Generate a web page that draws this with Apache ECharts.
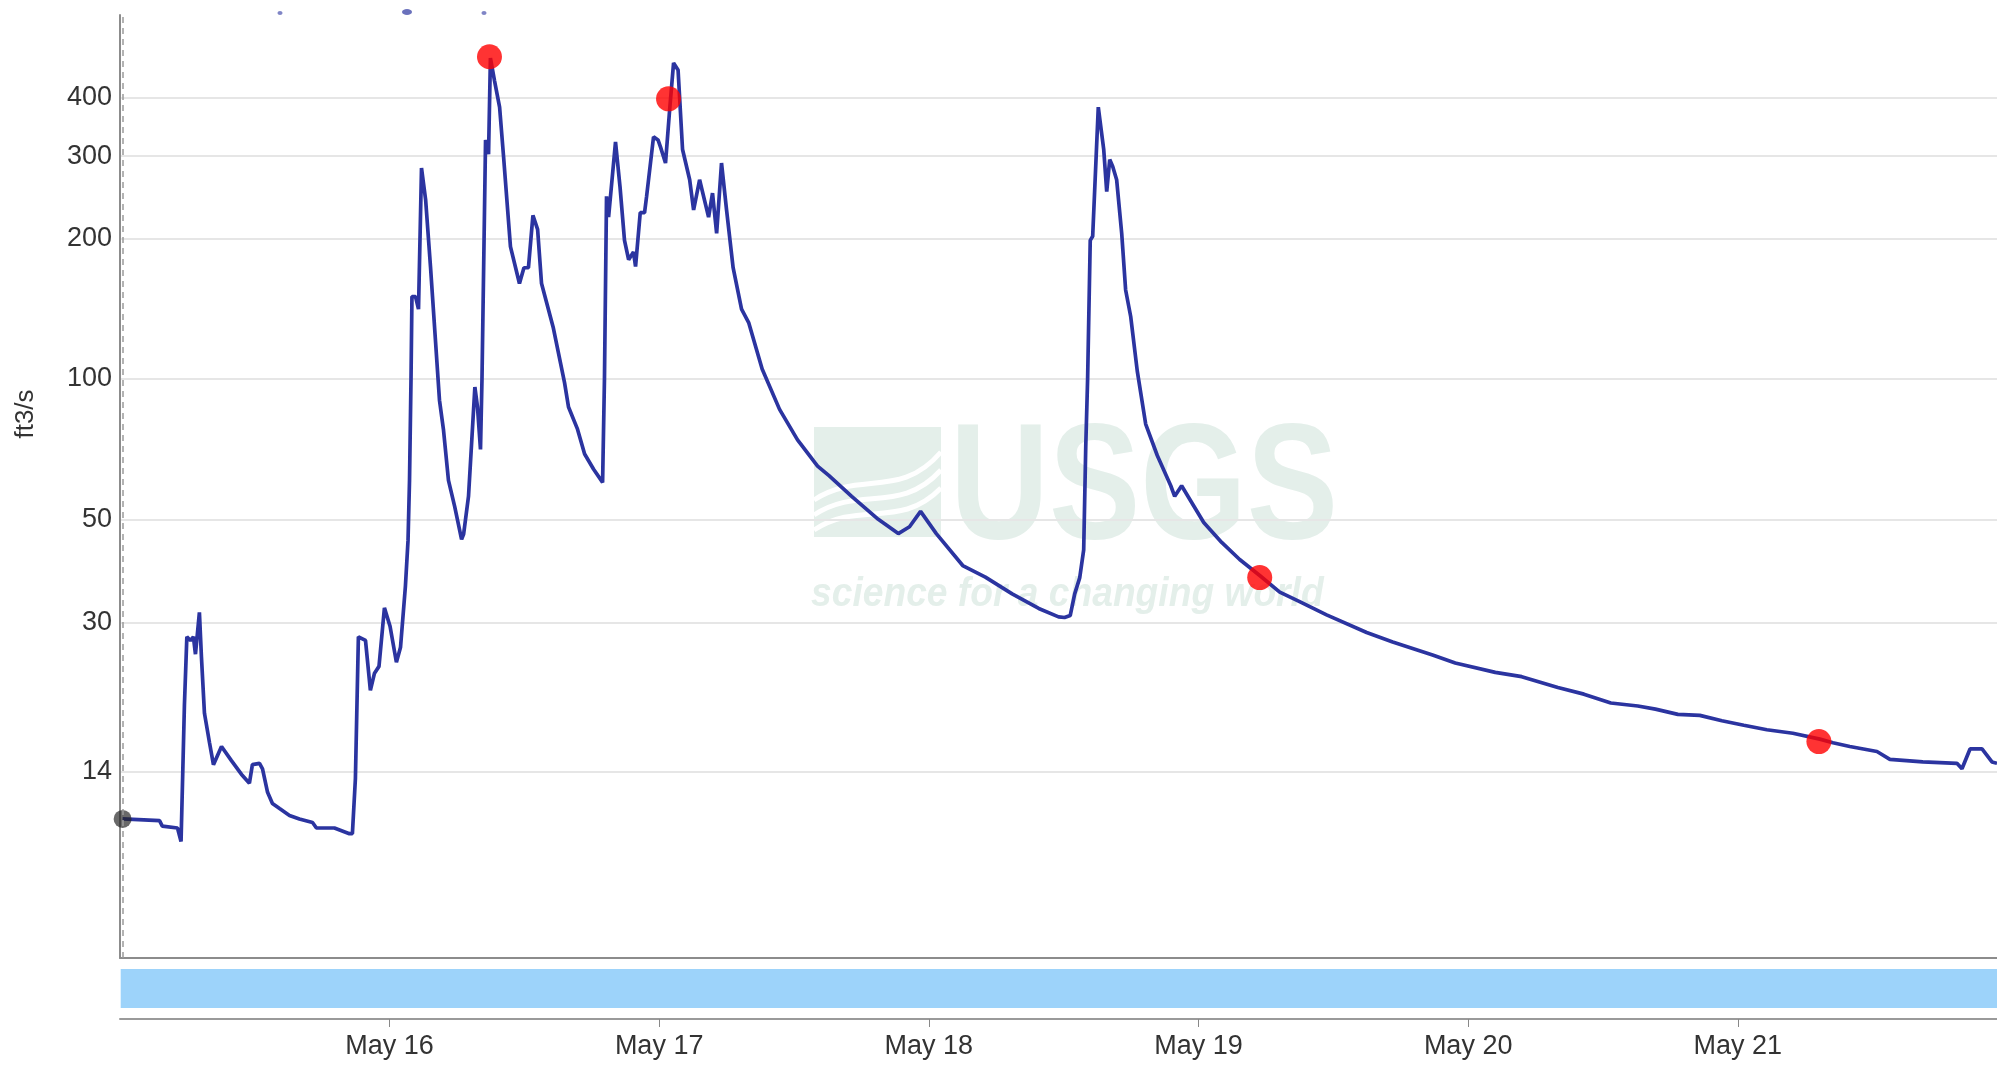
<!DOCTYPE html>
<html><head><meta charset="utf-8">
<script src="https://cdn.jsdelivr.net/npm/echarts@6/dist/echarts.min.js"></script>
<style>html,body{margin:0;padding:0;background:#fff}#chart{width:1997px;height:1066px}</style>
</head><body><div id="chart"></div>
<script>
// ---- data ----
const times = [
'2023-05-15 00:15','2023-05-15 03:32','2023-05-15 03:47','2023-05-15 05:08','2023-05-15 05:27','2023-05-15 05:45','2023-05-15 05:58','2023-05-15 06:17','2023-05-15 06:33','2023-05-15 06:44',
'2023-05-15 07:05','2023-05-15 07:16','2023-05-15 07:32','2023-05-15 07:59','2023-05-15 08:20','2023-05-15 09:03','2023-05-15 09:56','2023-05-15 10:50','2023-05-15 11:32','2023-05-15 11:48',
'2023-05-15 12:26','2023-05-15 12:42','2023-05-15 13:09','2023-05-15 13:35','2023-05-15 14:13','2023-05-15 15:06','2023-05-15 15:59','2023-05-15 17:09','2023-05-15 17:30','2023-05-15 19:06',
'2023-05-15 20:26','2023-05-15 20:42','2023-05-15 20:58','2023-05-15 21:14','2023-05-15 21:52','2023-05-15 22:18','2023-05-15 22:40','2023-05-15 23:04','2023-05-15 23:33','2023-05-16 00:03',
'2023-05-16 00:37','2023-05-16 00:59','2023-05-16 01:25','2023-05-16 01:39','2023-05-16 01:47','2023-05-16 01:55','2023-05-16 02:00','2023-05-16 02:19','2023-05-16 02:35','2023-05-16 02:51',
'2023-05-16 03:13','2023-05-16 03:39','2023-05-16 04:27','2023-05-16 04:48','2023-05-16 05:15','2023-05-16 05:48','2023-05-16 06:25','2023-05-16 06:36','2023-05-16 07:02','2023-05-16 07:36',
'2023-05-16 07:50','2023-05-16 08:06','2023-05-16 08:14','2023-05-16 08:33','2023-05-16 08:49','2023-05-16 08:59','2023-05-16 09:21','2023-05-16 09:48','2023-05-16 10:09','2023-05-16 10:46',
'2023-05-16 11:34','2023-05-16 11:58','2023-05-16 12:22','2023-05-16 12:46','2023-05-16 13:11','2023-05-16 13:32','2023-05-16 14:34','2023-05-16 15:35','2023-05-16 15:56','2023-05-16 16:44',
'2023-05-16 17:22','2023-05-16 18:10','2023-05-16 18:58','2023-05-16 19:08','2023-05-16 19:19','2023-05-16 19:30','2023-05-16 20:07','2023-05-16 20:31','2023-05-16 20:55','2023-05-16 21:17',
'2023-05-16 21:43','2023-05-16 21:54','2023-05-16 22:19','2023-05-16 22:42','2023-05-16 22:53','2023-05-16 23:30','2023-05-16 23:54','2023-05-17 00:07','2023-05-17 00:34','2023-05-17 00:56',
'2023-05-17 01:17','2023-05-17 01:41','2023-05-17 02:05','2023-05-17 02:43','2023-05-17 03:04','2023-05-17 03:36','2023-05-17 04:24','2023-05-17 04:45','2023-05-17 05:07','2023-05-17 05:33',
'2023-05-17 06:00','2023-05-17 06:35','2023-05-17 07:20','2023-05-17 07:58','2023-05-17 09:10','2023-05-17 10:43','2023-05-17 12:19','2023-05-17 14:06','2023-05-17 15:07','2023-05-17 17:08',
'2023-05-17 19:30','2023-05-17 21:17','2023-05-17 22:17','2023-05-17 23:16','2023-05-18 00:40','2023-05-18 03:01','2023-05-18 05:02','2023-05-18 07:25','2023-05-18 09:47','2023-05-18 11:33',
'2023-05-18 12:05','2023-05-18 12:35','2023-05-18 12:59','2023-05-18 13:26','2023-05-18 13:47','2023-05-18 13:58','2023-05-18 14:08','2023-05-18 14:22','2023-05-18 14:35','2023-05-18 15:05',
'2023-05-18 15:34','2023-05-18 15:50','2023-05-18 16:06','2023-05-18 16:22','2023-05-18 16:43','2023-05-18 17:10','2023-05-18 17:31','2023-05-18 17:58','2023-05-18 18:33','2023-05-18 19:18',
'2023-05-18 20:20','2023-05-18 21:32','2023-05-18 21:53','2023-05-18 22:30','2023-05-18 23:18','2023-05-19 00:28','2023-05-19 02:04','2023-05-19 03:40','2023-05-19 05:27','2023-05-19 07:14',
'2023-05-19 09:00','2023-05-19 11:24','2023-05-19 14:58','2023-05-19 17:17','2023-05-19 20:50','2023-05-19 22:51','2023-05-20 02:25','2023-05-20 04:46','2023-05-20 07:59','2023-05-20 10:18',
'2023-05-20 12:42','2023-05-20 15:06','2023-05-20 16:40','2023-05-20 18:40','2023-05-20 20:37','2023-05-20 22:35','2023-05-21 00:32','2023-05-21 02:35','2023-05-21 04:54','2023-05-21 07:18',
'2023-05-21 08:28','2023-05-21 09:58','2023-05-21 12:23','2023-05-21 13:32','2023-05-21 16:28','2023-05-21 19:30','2023-05-21 19:57','2023-05-21 20:40','2023-05-21 21:44','2023-05-21 22:37',
'2023-05-21 23:04'
];
const discharge = [
11.4,11.3,11.0,10.9,10.2,20,28,27.5,28,25.7,
31.6,25.3,19.2,16.6,14.9,16.3,15.2,14.2,13.6,14.9,
15.0,14.6,13.0,12.3,12.0,11.6,11.4,11.2,10.9,10.9,
10.6,10.6,13.9,28,27.5,21.5,23.4,24.2,32.3,29.5,
24.7,26.6,35.9,45,60.6,100,150,150,141,283,
242,174,90,78,60.6,53.3,45.3,46.5,56,96,
87,70.6,100,325,303,487,435,382,300,192,
160,173,173,224,209,160,129,98,87,78,
69,64,60,100,246,222,322,258,198,180,
187,174,227,227,246,330,325,314,290,377,
475,459,310,267,230,267,222,250,205,290,
230,173,141,132,105,86,74,65,62,56,
50,46.6,48.2,52,46.6,39.8,37.6,34.6,32.2,30.9,
30.8,31.1,34.6,37.5,43,71.5,100,198,202,382,
310,252,295,285,267,205,155,136,104,80,
68.5,59,56,59,54.8,49.2,44.6,41.0,37.9,34.9,
33.3,31.2,28.6,27.3,25.6,24.6,23.5,23.0,21.8,21.1,
20.2,19.9,19.6,19.1,19.0,18.5,18.1,17.7,17.4,16.9,
16.6,16.3,15.9,15.3,15.1,15.0,14.6,16.1,16.1,15.1,
15.0
];
// sampled points (red markers)
const sampleTimes = ['2023-05-16 08:54','2023-05-17 00:50','2023-05-19 05:27','2023-05-21 07:13'];
const sampleValues = [490, 398, 37.5, 16.7];
// axis ticks
const yTickValues = [14.4, 30, 50, 100, 200, 300, 400];
const monthNames = ['Jan','Feb','Mar','Apr','May','Jun','Jul','Aug','Sep','Oct','Nov','Dec'];
const xMin = '2023-05-15 00:01', xMax = '2023-05-21 23:04';
const yMin = 5.74, yMax = 602;
const yAxisTitle = 'ft3/s';

// ---- build ----
const ts = s => new Date(s.replace(' ', 'T')).getTime();
const DAY = 86400000;
const lineData = times.map((t, i) => [ts(t), discharge[i]]);
const sampleData = sampleTimes.map((t, i) => [ts(t), sampleValues[i]]);
const FONT = '"Liberation Sans", Arial, Helvetica, sans-serif';
const WM = '#e4efea';
const LINE = '#2b34a0';

const chart = echarts.init(document.getElementById('chart'), null, {renderer: 'canvas'});
const timeAxisBase = {
  type: 'time', min: ts(xMin), max: ts(xMax),
  minInterval: DAY, maxInterval: DAY,
  splitLine: {show: false}
};
chart.setOption({
  animation: false,
  backgroundColor: '#fff',
  grid: {left: 120, right: 0, top: 15, bottom: 108, containLabel: false},
  xAxis: [
    Object.assign({}, timeAxisBase, {
      position: 'bottom',
      axisLine: {show: true, lineStyle: {color: '#8c8c8c', width: 2}},
      axisTick: {show: false}, axisLabel: {show: false}
    }),
    Object.assign({}, timeAxisBase, {
      position: 'bottom', offset: 61,
      axisLine: {show: true, lineStyle: {color: '#9a9a9a', width: 2}},
      axisTick: {show: true, length: 8, lineStyle: {color: '#888', width: 1}},
      axisLabel: {show: true, margin: 14, fontSize: 27, color: '#333', fontFamily: FONT,
        hideOverlap: false,
        formatter: v => { const d = new Date(v); return monthNames[d.getMonth()] + ' ' + d.getDate(); }}
    })
  ],
  yAxis: {
    type: 'log', logBase: 10, min: yMin, max: yMax,
    name: yAxisTitle, nameLocation: 'middle', nameRotate: 90, nameGap: 81,
    nameTextStyle: {fontSize: 26, color: '#333', fontFamily: FONT, padding: [0, 0, 0, 145]},
    axisLine: {show: true, lineStyle: {color: '#8c8c8c', width: 2}},
    axisTick: {show: false, customValues: yTickValues},
    axisLabel: {customValues: yTickValues, margin: 8, fontSize: 27, color: '#333', fontFamily: FONT,
      formatter: v => String(Math.round(v))},
    splitLine: {show: true, lineStyle: {color: '#e6e6e6', width: 2}}
  },
  dataZoom: [{
    type: 'slider', xAxisIndex: [0, 1], filterMode: 'none', start: 0, end: 100,
    left: 120, right: 0, top: 969, height: 39,
    backgroundColor: 'transparent', borderColor: 'transparent', fillerColor: '#9dd3fa',
    showDataShadow: false, showDetail: false, brushSelect: false,
    handleSize: 0, moveHandleSize: 0,
    handleStyle: {opacity: 0}, moveHandleStyle: {opacity: 0},
    dataBackground: {lineStyle: {opacity: 0}, areaStyle: {opacity: 0}},
    selectedDataBackground: {lineStyle: {opacity: 0}, areaStyle: {opacity: 0}}
  }],
  graphic: [
    {type: 'group', z: 1, silent: true, children: [
      {type: 'rect', shape: {x: 814, y: 427, width: 127, height: 110}, style: {fill: WM}},
      {type: 'bezierCurve', shape: {x1: 814, y1: 500, x2: 941, y2: 452, cpx1: 860, cpy1: 470, cpx2: 900, cpy2: 500}, style: {stroke: '#fff', lineWidth: 5, fill: null}},
      {type: 'bezierCurve', shape: {x1: 814, y1: 515, x2: 941, y2: 470, cpx1: 860, cpy1: 485, cpx2: 900, cpy2: 515}, style: {stroke: '#fff', lineWidth: 5, fill: null}},
      {type: 'bezierCurve', shape: {x1: 814, y1: 530, x2: 941, y2: 488, cpx1: 860, cpy1: 500, cpx2: 900, cpy2: 530}, style: {stroke: '#fff', lineWidth: 5, fill: null}},
      {type: 'text', x: 950, y: 492, scaleX: 0.83,
        style: {text: 'USGS', fontSize: 165, fontWeight: 'bold', fontFamily: FONT, fill: WM, align: 'left', verticalAlign: 'middle'}},
      {type: 'text', x: 811, y: 595, scaleX: 0.93,
        style: {text: 'science for a changing world', fontSize: 40, fontStyle: 'italic', fontWeight: 'bold', fontFamily: FONT, fill: WM, align: 'left', verticalAlign: 'middle'}}
    ]},
    // clipped fragments of the legend above the plot
    {type: 'group', silent: true, children: [
      {type: 'ellipse', shape: {cx: 280, cy: 13, rx: 2.5, ry: 2}, style: {fill: LINE, opacity: 0.6}},
      {type: 'ellipse', shape: {cx: 407, cy: 12, rx: 5, ry: 3}, style: {fill: LINE, opacity: 0.7}},
      {type: 'ellipse', shape: {cx: 484, cy: 13, rx: 2.5, ry: 2}, style: {fill: LINE, opacity: 0.6}}
    ]}
  ],
  series: [
    {
      name: 'Discharge', type: 'line', xAxisIndex: 0, data: lineData,
      showSymbol: false, symbol: 'none', z: 3,
      lineStyle: {color: LINE, width: 3.7},
      markLine: {silent: true, symbol: 'none', label: {show: false},
        lineStyle: {color: '#9a9a9a', type: [6, 5], width: 1.5},
        data: [{xAxis: lineData[0][0]}]}
    },
    {
      name: 'Current', type: 'scatter', xAxisIndex: 0, data: [lineData[0]],
      symbolSize: 18, z: 4, itemStyle: {color: 'rgba(35,35,35,0.85)'}
    },
    {
      name: 'Samples', type: 'scatter', xAxisIndex: 0, data: sampleData,
      symbolSize: 25, z: 5, itemStyle: {color: '#ff0000'}
    }
  ]
});
</script>
</body></html>
